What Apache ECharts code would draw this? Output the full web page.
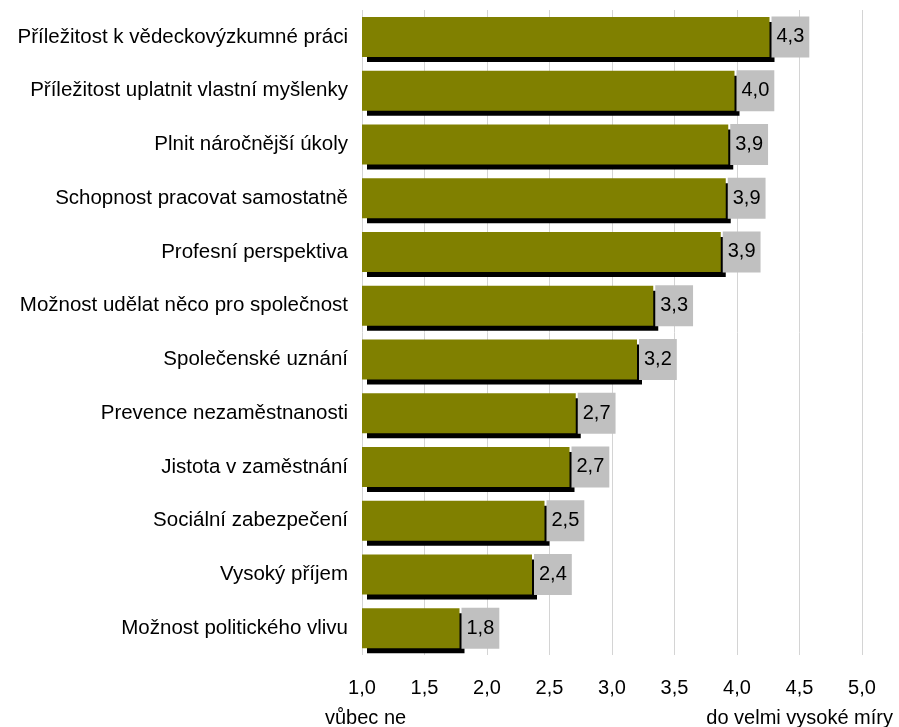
<!DOCTYPE html>
<html>
<head>
<meta charset="utf-8">
<script src="https://cdn.jsdelivr.net/npm/echarts@6/dist/echarts.min.js"></script>
<style>
html,body{margin:0;padding:0;background:#fff;}
#chart{width:899px;height:727px;}
</style>
</head>
<body>
<div id="chart"></div>
<script>
var categories = [
  "Příležitost k vědeckovýzkumné práci",
  "Příležitost uplatnit vlastní myšlenky",
  "Plnit náročnější úkoly",
  "Schopnost pracovat samostatně",
  "Profesní perspektiva",
  "Možnost udělat něco pro společnost",
  "Společenské uznání",
  "Prevence nezaměstnanosti",
  "Jistota v zaměstnání",
  "Sociální zabezpečení",
  "Vysoký příjem",
  "Možnost politického vlivu"
];
var values = [4.26, 3.98, 3.93, 3.91, 3.87, 3.33, 3.20, 2.71, 2.66, 2.46, 2.36, 1.78];
var axisMin = 1.0, axisMax = 5.0, axisStep = 0.5;
var leftNote = "vůbec ne";
var rightNote = "do velmi vysoké míry";

var FONT = '"Liberation Sans", Arial, sans-serif';
function fmt(v){ return v.toFixed(1).replace('.', ','); }

var chart = echarts.init(document.getElementById('chart'), null, {renderer:'canvas'});
chart.setOption({
  backgroundColor: '#ffffff',
  animation: false,
  textStyle: {fontFamily: FONT},
  grid: {left: 362, right: 37, top: 10, bottom: 72, containLabel: false},
  xAxis: {
    type: 'value', min: axisMin, max: axisMax, interval: axisStep,
    axisLine: {show: false}, axisTick: {show: false},
    splitLine: {show: true, lineStyle: {color: '#d4d4d4', width: 1}},
    axisLabel: {color: '#000', fontSize: 20, fontFamily: FONT, margin: 23, formatter: fmt}
  },
  yAxis: {
    type: 'category', data: categories, inverse: true,
    axisLine: {show: false}, axisTick: {show: false},
    axisLabel: {color: '#000', fontSize: 20.5, fontFamily: FONT, margin: 14}
  },
  series: [{
    type: 'bar',
    data: values,
    barWidth: 40,
    itemStyle: {
      color: '#808000',
      shadowColor: '#000000', shadowBlur: 0, shadowOffsetX: 5, shadowOffsetY: 5
    },
    label: {
      show: true, position: 'right', distance: 2,
      formatter: function(p){ return fmt(p.value); },
      color: '#000', fontSize: 20, fontFamily: FONT, lineHeight: 23,
      backgroundColor: '#c0c0c0', padding: [9, 5, 9, 5]
    }
  }],
  graphic: [
    {type: 'text', left: 325, top: 708, style: {text: leftNote, fontSize: 20, fontFamily: FONT, fill: '#000'}},
    {type: 'text', right: 6, top: 708, style: {text: rightNote, fontSize: 20, fontFamily: FONT, fill: '#000'}}
  ]
});
</script>
</body>
</html>
